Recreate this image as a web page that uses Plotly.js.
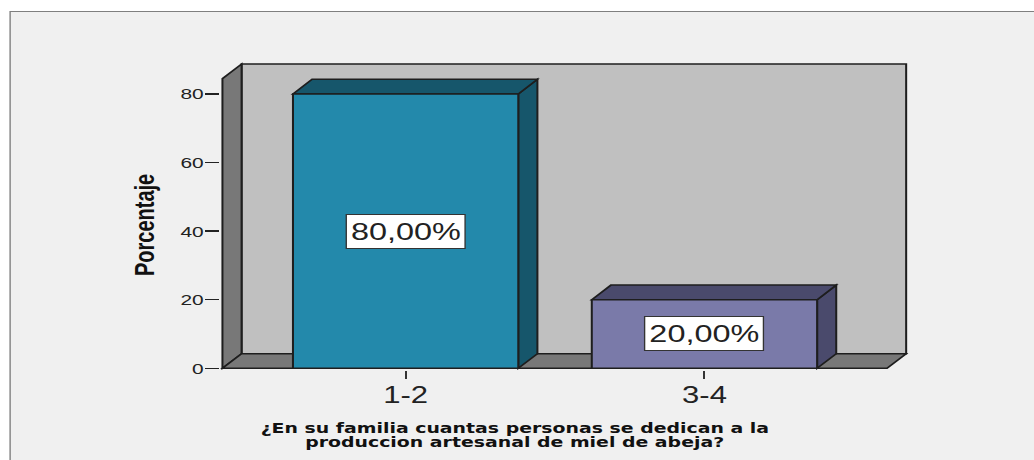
<!DOCTYPE html>
<html>
<head>
<meta charset="utf-8">
<script src="https://cdn.plot.ly/plotly-3.0.1.min.js"></script>
<style>
  html, body { margin: 0; padding: 0; background: #ffffff; overflow: hidden; width: 1034px; height: 460px; }
  #wrap { position: relative; width: 766px; height: 460px; transform: scaleX(1.35); transform-origin: 0 0; }
  #frame { position: absolute; left: 7.4px; top: 11px; width: 1000px; height: 600px; background: #f0f0f0; border: 1.6px solid #7f7f7f; }
  #chart { position: absolute; left: 0; top: 0; width: 766px; height: 460px; }
</style>
</head>
<body>
<div id="wrap">
  <div id="frame"></div>
  <div id="chart"></div>
</div>
<script>
// ---- data ----
const categories = ['1-2', '3-4'];
const percentages = [80, 20];
const yTickValues = [0, 20, 40, 60, 80];
const yTitle = 'Porcentaje';
const xTitleLines = ['¿En su familia cuantas personas se dedican a la', 'produccion artesanal de miel de abeja?'];

// ---- style / geometry ----
const frontColors = ['#2389ab', '#7a7aa9'];
const sideColors = ['#16566b', '#4a4a6c'];
const W0 = 766, H = 460;
const M = {l: 163.2, r: 93.2, t: 62.1, b: 90.3};
const X_RANGE = [-0.621, 1.683];
const Y_RANGE = [-0.5, 89.3];
const WALL_X0 = -0.613, WALL_X1 = 1.675, WALL_TOP = 88.7;
const DX = 0.064, DY = 4.25;
const BAR_W = 0.754;
const EDGE = '#1e1e1e';

function pxToPaperX(px) { return (px - M.l) / (W0 - M.l - M.r); }
function pxToPaperY(py) { return (H - M.b - py) / (H - M.t - M.b); }

const xIdx = categories.map((c, i) => i);
const fmt = v => v.toFixed(2).replace('.', ',') + '%';

const trace = {
  type: 'bar',
  x: xIdx,
  y: percentages,
  width: BAR_W,
  marker: {color: frontColors, line: {color: EDGE, width: 1.5}},
  hoverinfo: 'skip',
  showlegend: false
};

const shapes = [];
// back wall
shapes.push({type: 'path', xref: 'x', yref: 'y', layer: 'below',
  path: `M ${WALL_X0 + DX},${DY} L ${WALL_X0 + DX},${WALL_TOP} L ${WALL_X1},${WALL_TOP} L ${WALL_X1},${DY} Z`,
  fillcolor: '#c0c0c0', line: {color: EDGE, width: 1.5}});
// left wall
shapes.push({type: 'path', xref: 'x', yref: 'y', layer: 'below',
  path: `M ${WALL_X0},0 L ${WALL_X0},${WALL_TOP - DY} L ${WALL_X0 + DX},${WALL_TOP} L ${WALL_X0 + DX},${DY} Z`,
  fillcolor: '#787878', line: {color: EDGE, width: 1.5}});
// floor
shapes.push({type: 'path', xref: 'x', yref: 'y', layer: 'below',
  path: `M ${WALL_X0},0 L ${WALL_X0 + DX},${DY} L ${WALL_X1},${DY} L ${WALL_X1 - DX},0 Z`,
  fillcolor: '#787878', line: {color: EDGE, width: 1.5}});
// bar sides and tops
percentages.forEach((v, i) => {
  const xl = i - BAR_W / 2, xr = i + BAR_W / 2;
  shapes.push({type: 'path', xref: 'x', yref: 'y', layer: 'below',
    path: `M ${xr},0 L ${xr + DX},${DY} L ${xr + DX},${v + DY} L ${xr},${v} Z`,
    fillcolor: sideColors[i], line: {color: EDGE, width: 1.5}});
  shapes.push({type: 'path', xref: 'x', yref: 'y', layer: 'below',
    path: `M ${xl},${v} L ${xl + DX},${v + DY} L ${xr + DX},${v + DY} L ${xr},${v} Z`,
    fillcolor: sideColors[i], line: {color: EDGE, width: 1.5}});
});

const annotations = percentages.map((v, i) => ({
  xref: 'x', yref: 'y', x: i, y: v / 2, text: fmt(v), showarrow: false,
  bgcolor: '#ffffff', bordercolor: '#333333', borderwidth: 1, borderpad: 3,
  font: {family: 'Liberation Sans, Arial, sans-serif', size: 24, color: '#222222'}
}));
annotations.push({
  xref: 'paper', yref: 'paper', x: pxToPaperX(106.7), y: pxToPaperY(224.5),
  xanchor: 'center', yanchor: 'middle', textangle: -90, text: yTitle, showarrow: false,
  font: {family: 'Liberation Sans, Arial, sans-serif', size: 20, weight: 700, color: '#111111'}
});
const xTitleY = [427.2, 441.2];
xTitleLines.forEach((t, k) => annotations.push({
  xref: 'paper', yref: 'paper', x: pxToPaperX(381.5), y: pxToPaperY(xTitleY[k]),
  xanchor: 'center', yanchor: 'middle', text: t, showarrow: false,
  font: {family: 'DejaVu Sans, sans-serif', size: 14, weight: 700, color: '#111111'}
}));

const layout = {
  width: W0, height: H,
  margin: M,
  paper_bgcolor: 'rgba(0,0,0,0)',
  plot_bgcolor: 'rgba(0,0,0,0)',
  showlegend: false,
  xaxis: {
    type: 'linear', range: X_RANGE, tickmode: 'array', tickvals: xIdx, ticktext: categories,
    showgrid: false, zeroline: false, showline: false,
    ticks: 'outside', ticklen: 8, tickwidth: 1.5, tickcolor: '#333333',
    ticklabelstandoff: -4,
    tickfont: {family: 'Liberation Sans, Arial, sans-serif', size: 23, color: '#222222'},
    fixedrange: true
  },
  yaxis: {
    range: Y_RANGE, tickmode: 'array', tickvals: yTickValues,
    showgrid: false, zeroline: false, showline: false,
    ticks: 'outside', ticklen: 10, tickwidth: 1.3, tickcolor: '#222222',
    ticklabelstandoff: -2,
    tickfont: {family: 'Liberation Sans, Arial, sans-serif', size: 15.5, color: '#222222'},
    fixedrange: true
  },
  shapes: shapes,
  annotations: annotations,
  bargap: 0
};

Plotly.newPlot('chart', [trace], layout, {displayModeBar: false, staticPlot: true});
</script>
</body>
</html>
